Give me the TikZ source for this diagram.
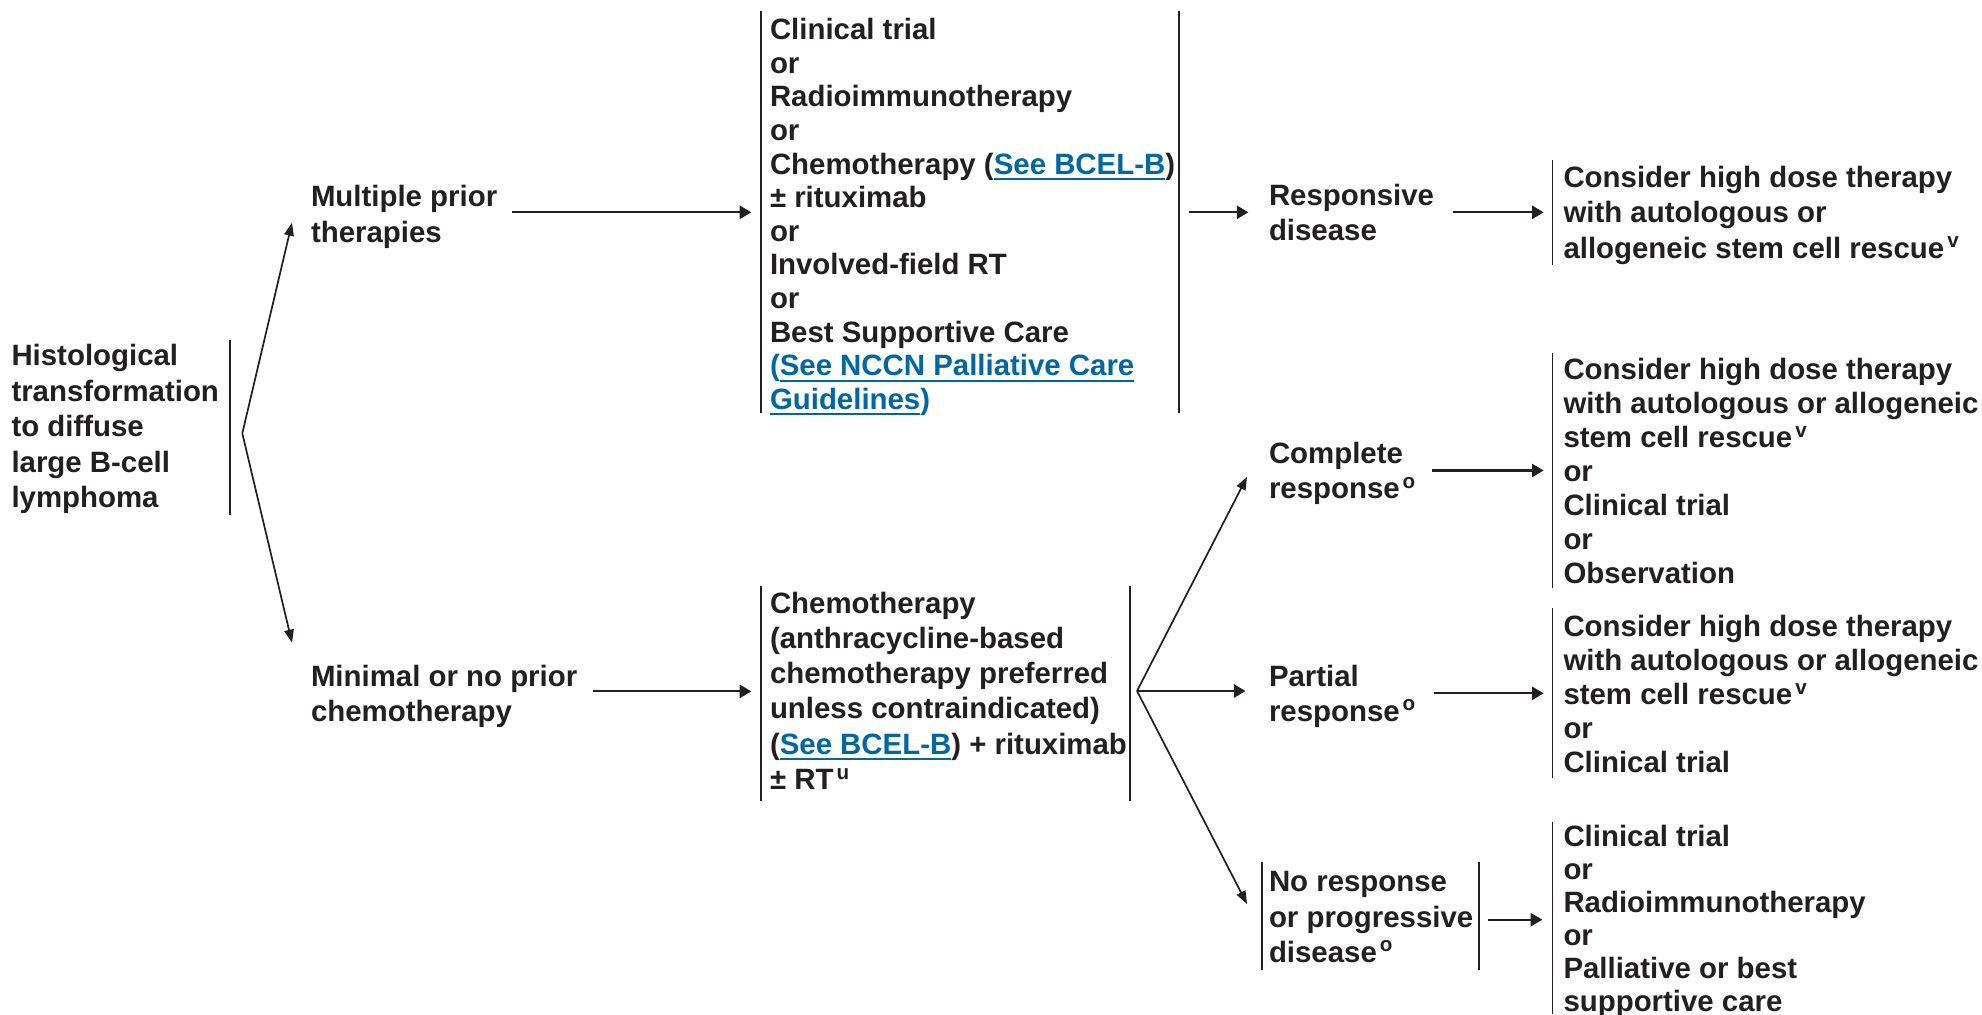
\documentclass[tikz,border=0pt]{standalone}
\usepackage{fontspec}
\setmainfont{Liberation Sans}
\usetikzlibrary{arrows.meta}
\definecolor{ink}{RGB}{35,31,32}
\definecolor{linkblue}{RGB}{0,103,165}
% bold text at a fixed size, with a chosen line spacing (in pt)
\newcommand\setfs[1]{\fontsize{14.7pt}{#1pt}\selectfont\bfseries}
% blue underlined cross-reference
\newcommand\lnk[1]{{\color{linkblue}\setbox0\hbox{#1}\rlap{\rule[-3pt]{\wd0}{1pt}}\box0}}
% footnote marker
\newcommand\fnm[1]{\hspace{1.5pt}\textsuperscript{#1}}
\begin{document}
\begin{tikzpicture}[x=0.5pt,y=-0.5pt,
  % text blocks are placed by the baseline of their last line
  txt/.style={inner sep=0pt,outer sep=0pt,text=ink,anchor=base west,align=left,yshift=-1.2pt,font=\setfs{#1}},
  bar/.style={draw=ink,line width=0.95pt},
  arr/.style={draw=ink,line width=1.05pt,-{Triangle[length=5.8pt,width=6.6pt]}},
  diag/.style={draw=ink,line width=0.85pt,-{Triangle[length=6.5pt,width=4.8pt]}}]
\fill[white] (0,0) rectangle (1982,1014);
\useasboundingbox (0,0) rectangle (1982,1014);

% ---- text blocks ----
\node[txt=17.75] (hist) at (11.5,505.3)
  {Histological\\transformation\\to diffuse\\large B-cell\\lymphoma};
\node[txt=17.9] (mult) at (311,239.8) {Multiple prior\\therapies};
\node[txt=17.75] (minimal) at (311,719.5) {Minimal or no prior\\chemotherapy};
\node[txt=16.8] (opts) at (770,406.9)
  {Clinical trial\\or\\Radioimmunotherapy\\or\\Chemotherapy (\lnk{See BCEL-B})\\%
   ± rituximab\\or\\Involved-field RT\\or\\Best Supportive Care\\%
   {\color{linkblue}(\lnk{See NCCN Palliative Care}}\\{\color{linkblue}\lnk{Guidelines})}};
\node[txt=17.65] (chemo) at (770,787.1)
  {Chemotherapy\\(anthracycline-based\\chemotherapy preferred\\unless contraindicated)\\%
   (\lnk{See BCEL-B}) + rituximab\\± RT\fnm{u}};
\node[txt=17.5] (resp) at (1269,238.5) {Responsive\\disease};
\node[txt=17.5] (compl) at (1269,496.5) {Complete\\response\fnm{o}};
\node[txt=17.3] (part) at (1269,718.9) {Partial\\response\fnm{o}};
\node[txt=17.65] (nores) at (1269,959.9) {No response\\or progressive\\disease\fnm{o}};
\node[txt=17.75] (hdt1) at (1563.5,256)
  {Consider high dose therapy\\with autologous or\\allogeneic stem cell rescue\fnm{v}};
\node[txt=16.95] (hdt2) at (1563.5,580.7)
  {Consider high dose therapy\\with autologous or allogeneic\\stem cell rescue\fnm{v}\\or\\Clinical trial\\or\\Observation};
\node[txt=17] (hdt3) at (1563.5,770.3)
  {Consider high dose therapy\\with autologous or allogeneic\\stem cell rescue\fnm{v}\\or\\Clinical trial};
\node[txt=16.55] (salv) at (1563.5,1009.5)
  {Clinical trial\\or\\Radioimmunotherapy\\or\\Palliative or best\\supportive care};

% ---- brackets beside the text blocks ----
\draw[bar] (230,340) -- (230,515);
\draw[bar] (761,11) -- (761,413.3);
\draw[bar] (1179.4,11) -- (1179.4,413.3);
\draw[bar] (761,586) -- (761,801);
\draw[bar] (1130,586) -- (1130,801);
\draw[bar] (1262.3,861.7) -- (1262.3,970);
\draw[bar] (1479.3,861.7) -- (1479.3,970);
\draw[bar] (1552.5,160) -- (1552.5,265);
\draw[bar] (1552.5,353) -- (1552.5,588);
\draw[bar] (1552.5,608) -- (1552.5,778);
\draw[bar] (1552.5,822) -- (1552.5,1014);

% ---- branch points and arrow ends ----
\coordinate (fork1) at (242.3,433.3);
\coordinate (multIn) at (292,222.7);
\coordinate (minIn) at (292,642.6);
\coordinate (fork2) at (1137,691);
\coordinate (complIn) at (1247,476.8);
\coordinate (partIn) at (1245.5,691);
\coordinate (noresIn) at (1247,904);
\coordinate (multOut) at (512,212.3);
\coordinate (optsIn) at (751.3,212.3);
\coordinate (minOut) at (593,691.4);
\coordinate (chemoIn) at (751.3,691.4);
\coordinate (optsOut) at (1189,212.3);
\coordinate (respIn) at (1248.4,212.3);
\coordinate (respOut) at (1452.8,212.3);
\coordinate (hdtaIn) at (1543.6,212.3);
\coordinate (complOut) at (1432.4,470.5);
\coordinate (hdtbIn) at (1543.6,470.5);
\coordinate (partOut) at (1433.7,693.3);
\coordinate (hdtcIn) at (1543.6,693.3);
\coordinate (noresOut) at (1488,919.7);
\coordinate (salvIn) at (1542.3,919.7);

% ---- connectors ----
\draw[diag] (fork1) -- (multIn);
\draw[diag] (fork1) -- (minIn);
\draw[arr] (multOut) -- (optsIn);
\draw[arr] (minOut) -- (chemoIn);
\draw[arr] (optsOut) -- (respIn);
\draw[arr] (respOut) -- (hdtaIn);
\draw[diag] (fork2) -- (complIn);
\draw[arr] (fork2) -- (partIn);
\draw[diag] (fork2) -- (noresIn);
\draw[arr] (complOut) -- (hdtbIn);
\draw[arr] (partOut) -- (hdtcIn);
\draw[arr] (noresOut) -- (salvIn);
\end{tikzpicture}
\end{document}
